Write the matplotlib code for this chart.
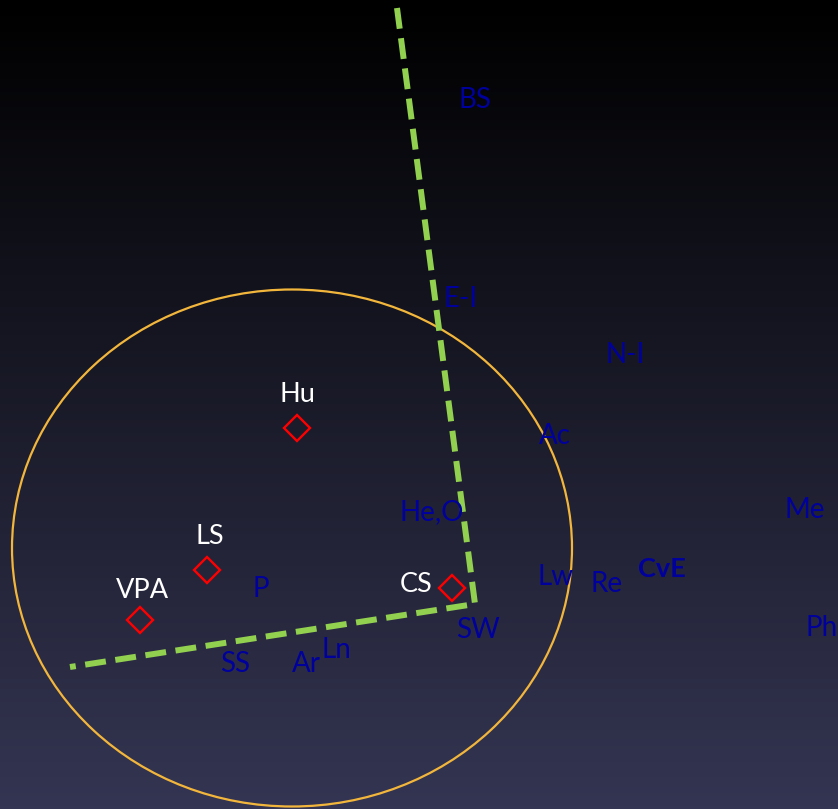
import numpy as np
import matplotlib.pyplot as plt
from matplotlib.patches import Ellipse

# positions in picture space (x right, y down)
blue_names = ['BS', 'E-I', 'N-I', 'Ac', 'He,O', 'Me', 'Lw', 'Re', 'Ph', 'SW', 'P', 'SS', 'Ar', 'Ln']
blue_x = [475, 461, 625, 555, 432, 805, 555, 607, 822, 478, 261, 235, 306, 336]
blue_y = [100, 299, 355, 436, 512, 510, 577, 584, 628, 630, 589, 664, 664, 650]

bold_names = ['CvE']
bold_x = [662]
bold_y = [569]

pt_names = ['Hu', 'LS', 'VPA', 'CS']
pt_x = [297, 207, 140, 452]
pt_y = [428, 570, 620, 588]
lab_x = [297, 210, 142, 416]
lab_y = [394, 537, 590, 584]

axis_x = [397, 475, 70]
axis_y = [8, 604, 667]

ell_cx, ell_cy = 292, 548
ell_w, ell_h = 560, 517

plt.rcParams['font.family'] = ['Lato', 'DejaVu Sans']

fig = plt.figure(figsize=(8.38, 8.09), dpi=100)
ax = fig.add_axes([0, 0, 1, 1])
ax.set_xlim(0, 838)
ax.set_ylim(809, 0)
ax.axis('off')

# background gradient: black at top to slate at bottom
top = np.array([0.0, 0.0, 0.0])
bot = np.array([0x34, 0x35, 0x52]) / 255
t = np.linspace(0, 1, 256)[:, None]
grad = top + (bot - top) * t
ax.imshow(grad[:, None, :].repeat(2, axis=1), extent=[0, 838, 809, 0], aspect='auto', zorder=0)

ax.add_patch(Ellipse((ell_cx, ell_cy), ell_w, ell_h, fill=False, edgecolor='#f2b63c', lw=1.6, zorder=2))

ax.plot(axis_x, axis_y, color='#92d050', lw=4.3, dashes=(3.5, 1.6), zorder=3)

for n, x, y in zip(blue_names, blue_x, blue_y):
    ax.text(x, y, n, color='#00009c', fontsize=20, ha='center', va='center', zorder=4)
for n, x, y in zip(bold_names, bold_x, bold_y):
    ax.text(x, y, n, color='#00009c', fontsize=19.5, fontweight='bold', ha='center', va='center', zorder=4)

ax.plot(pt_x, pt_y, 'D', ls='none', ms=13.5, mfc='none', mec='#ff0000', mew=1.7, zorder=5)
for n, x, y in zip(pt_names, lab_x, lab_y):
    ax.text(x, y, n, color='white', fontsize=19.5, ha='center', va='center', zorder=5)

fig.savefig('out.png', dpi=100)
